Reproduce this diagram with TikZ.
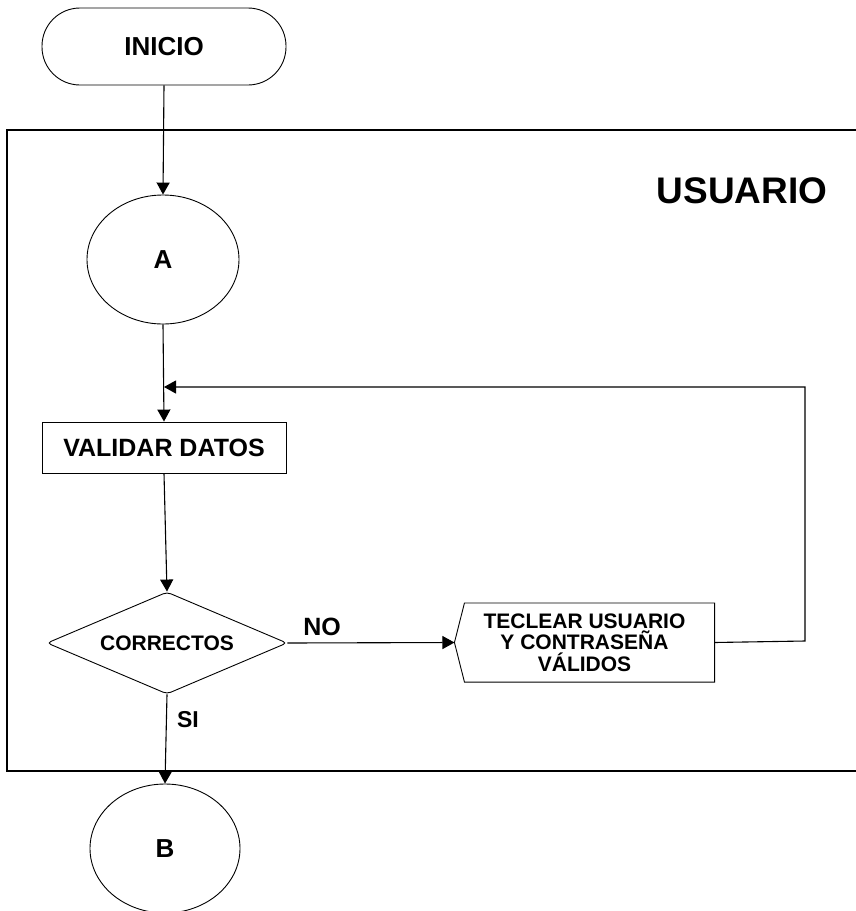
\documentclass[tikz,border=0pt]{standalone}
\usepackage{fontspec}
\setmainfont{Liberation Sans}
\usetikzlibrary{arrows.meta,shapes.geometric,calc}
\begin{document}
\begin{tikzpicture}[x=1pt,y=-1pt,
  line width=1.1pt,
  arr/.style={-{Triangle[length=12pt,width=13pt]}},
  shp/.style={draw,line width=0.9pt,inner sep=0pt,align=center},
  txt/.style={font=\bfseries\fontsize{#1}{#1}\selectfont},
]
\clip (0,0) rectangle (856,911);
\fill[white] (0,0) rectangle (856,911);
% frame
\draw[line width=1.4pt] (7,130) rectangle (880,771);
\node[txt=37] (usu) at (742,191) {USUARIO};
% nodes
\node[shp,rounded corners=38pt,minimum width=244pt,minimum height=77pt,txt=26] (ini) at (164,46.5) {INICIO};
\node[shp,ellipse,minimum width=152pt,minimum height=129pt,txt=26] (A) at (163,259.5) {A};
\node[shp,minimum width=244pt,minimum height=51pt,txt=25] (val) at (164,447.5) {VALIDAR DATOS};
\node[shp,diamond,aspect=2.35,minimum width=240pt,minimum height=102pt,txt=21,rounded corners=4pt] (cor) at (167,643) {CORRECTOS};
\node[inner sep=0pt,minimum width=259pt,minimum height=78pt,align=center,font=\bfseries\fontsize{21}{21.5}\selectfont] (tec) at (584.5,642.5) {TECLEAR USUARIO\\Y CONTRASEÑA\\VÁLIDOS};
\draw[line width=0.9pt] ($(tec.north west)+(10,0)$) -- (tec.north east) -- (tec.south east) -- ($(tec.south west)+(10,0)$) -- (tec.west) -- cycle;
\node[shp,ellipse,minimum width=150pt,minimum height=129pt,txt=26] (B) at (165,848.5) {B};
% connectors
\coordinate (fb) at (164,387);
\draw[arr] (ini.south) -- (A.north);
\draw[arr] (A.south) -- (val.north);
\draw[arr] (tec.east) -- (805,641) -- (805,387) -- (fb);
\draw[arr] (val.south) -- (cor.north);
\draw[arr] (cor.east) -- (tec.west);
\draw[arr] (cor.south) -- (B.north);
\node[txt=25] (no) at (322,627) {NO};
\node[txt=23] (si) at (188,720) {SI};
\end{tikzpicture}
\end{document}
